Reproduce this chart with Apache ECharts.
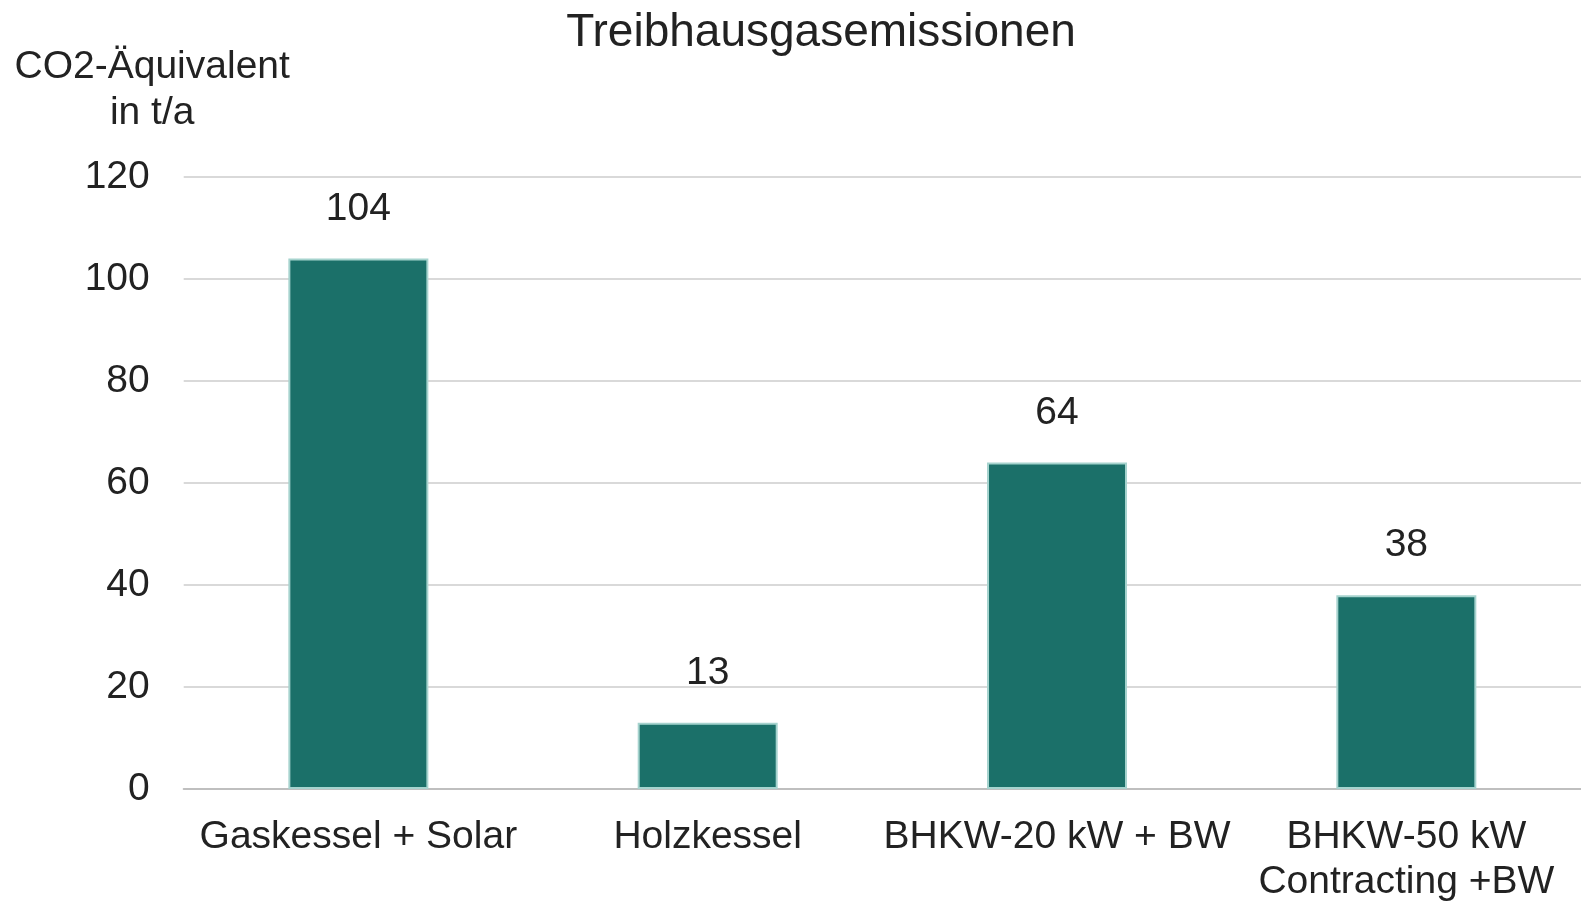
<!DOCTYPE html>
<html>
<head>
<meta charset="utf-8">
<script src="https://cdn.jsdelivr.net/npm/echarts@6/dist/echarts.min.js"></script>
<style>
html,body{margin:0;padding:0;background:#fff;}
#chart{width:1581px;height:905px;}
</style>
</head>
<body>
<div id="chart"></div>
<script>
const categories = ['Gaskessel + Solar', 'Holzkessel', 'BHKW-20 kW + BW', 'BHKW-50 kW\nContracting +BW'];
const values = [104, 13, 64, 38];
const yTicks = [0, 20, 40, 60, 80, 100, 120];
const titleText = 'Treibhausgasemissionen';
const yAxisName = 'CO2-Äquivalent\nin t/a';

const FONT = 'Liberation Sans, Arial, sans-serif';
const TXT = '#222222';
const chart = echarts.init(document.getElementById('chart'), null, {renderer: 'canvas'});
chart.setOption({
  animation: false,
  backgroundColor: '#ffffff',
  title: {
    text: titleText,
    left: 816,
    top: 5,
    textAlign: 'center',
    textStyle: {fontFamily: FONT, fontSize: 46, fontWeight: 'normal', color: TXT}
  },
  grid: {left: 183.7, right: -7.3, top: 177, bottom: 112, containLabel: false},
  xAxis: {
    type: 'category',
    data: categories,
    axisTick: {show: false},
    axisLine: {show: true, lineStyle: {color: '#bfbfbf', width: 2}},
    axisLabel: {
      interval: 0, margin: 26, color: TXT,
      fontFamily: FONT, fontSize: 39, lineHeight: 45
    }
  },
  yAxis: {
    type: 'value',
    min: yTicks[0],
    max: yTicks[yTicks.length - 1],
    interval: yTicks[1] - yTicks[0],
    name: yAxisName,
    nameLocation: 'end',
    nameGap: 41,
    nameTextStyle: {
      fontFamily: FONT, fontSize: 39, lineHeight: 46, color: TXT,
      align: 'center', verticalAlign: 'bottom', padding: [0, 63, 0, 0]
    },
    axisLine: {show: false},
    axisTick: {show: false},
    axisLabel: {margin: 34, color: TXT, fontFamily: FONT, fontSize: 39},
    splitLine: {lineStyle: {color: '#d9d9d9', width: 2}}
  },
  series: [{
    type: 'bar',
    data: values,
    barWidth: 140,
    itemStyle: {color: '#1b7069', borderColor: '#a6d3ce', borderWidth: 2},
    label: {
      show: true, position: 'top', distance: 30,
      color: TXT, fontFamily: FONT, fontSize: 39
    }
  }]
});
</script>
</body>
</html>
